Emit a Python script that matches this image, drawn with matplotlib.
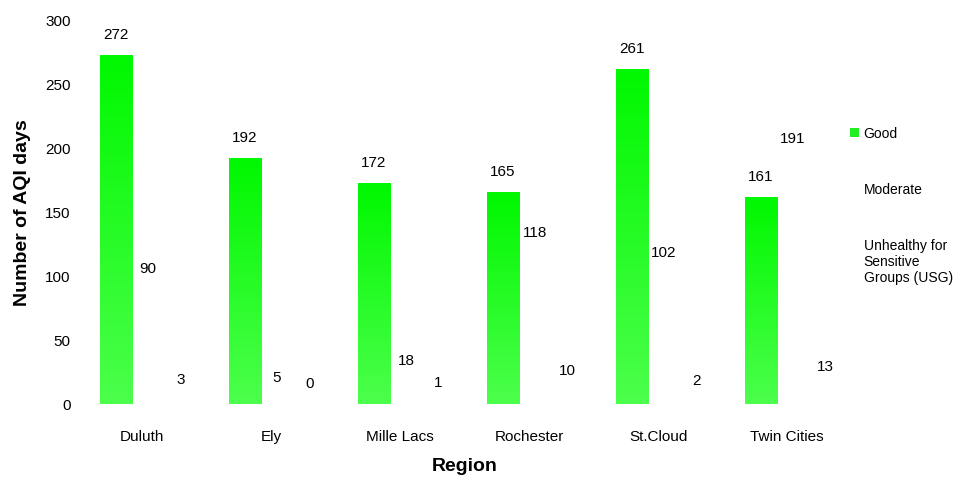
import numpy as np
import matplotlib.pyplot as plt
from matplotlib.patches import Patch
from matplotlib.colors import LinearSegmentedColormap

plt.rcParams['font.family'] = ['Liberation Sans', 'DejaVu Sans']

# AQI day counts per region
regions = ['Duluth', 'Ely', 'Mille Lacs', 'Rochester', 'St.Cloud', 'Twin Cities']
good = [272, 192, 172, 165, 261, 161]
moderate = [90, 5, 18, 118, 102, 191]
usg = [3, 0, 1, 10, 2, 13]
series_names = ['Good', 'Moderate', 'Unhealthy for\nSensitive\nGroups (USG)']

fig = plt.figure(figsize=(9.59, 4.89), dpi=100)
ax = fig.add_axes([0.081, 0.172, 0.807, 0.787])

x = np.arange(len(regions))
w = 0.25
shift = 0.045
green_cmap = LinearSegmentedColormap.from_list('g', ['#4cff4c', '#00f800'])
grad = np.linspace(0, 1, 256).reshape(-1, 1)

bars_good = ax.bar(x - w + shift, good, w, color='#22ee22', edgecolor='none', zorder=2)
bars_mod = ax.bar(x + shift, moderate, w, color='white', edgecolor='none', zorder=2)
bars_usg = ax.bar(x + w + shift, usg, w, color='white', edgecolor='none', zorder=2)

# vertical gradient fill on the Good bars
for b in bars_good:
    x0, y0 = b.get_x(), b.get_y()
    im = ax.imshow(grad, cmap=green_cmap, origin='lower', aspect='auto',
                   extent=[x0, x0 + b.get_width(), y0, y0 + b.get_height()],
                   zorder=3)
    im.set_clip_path(b)

for bars in (bars_good, bars_mod, bars_usg):
    for b in bars:
        h = b.get_height()
        ax.annotate(f'{int(h)}', (b.get_x() + b.get_width() / 2, h),
                    xytext=(0, 10), textcoords='offset points',
                    ha='center', va='bottom', fontsize=11, zorder=4)

ax.set_xlim(-0.5, len(regions) - 0.5)
ax.set_ylim(0, 300)
ax.set_yticks(range(0, 301, 50))
ax.set_xticks(x)
ax.set_xticklabels(regions, fontsize=11)
ax.tick_params(axis='y', labelsize=11, length=0, pad=5)
ax.tick_params(axis='x', length=0, pad=18)
for s in ax.spines.values():
    s.set_visible(False)

ax.set_xlabel('Region', fontsize=14, fontweight='bold', labelpad=10)
ax.set_ylabel('Number of AQI days', fontsize=14, fontweight='bold', labelpad=10)

handles = [Patch(facecolor='#22ee22', edgecolor='none'),
           Patch(facecolor='white', edgecolor='none'),
           Patch(facecolor='white', edgecolor='none')]
fig.legend(handles, series_names, loc='upper left', bbox_to_anchor=(0.873, 0.765),
           frameon=False, fontsize=10, handlelength=0.65, handleheight=0.65,
           handletextpad=0.35, labelspacing=3.0)

fig.savefig('out.png', dpi=100)
